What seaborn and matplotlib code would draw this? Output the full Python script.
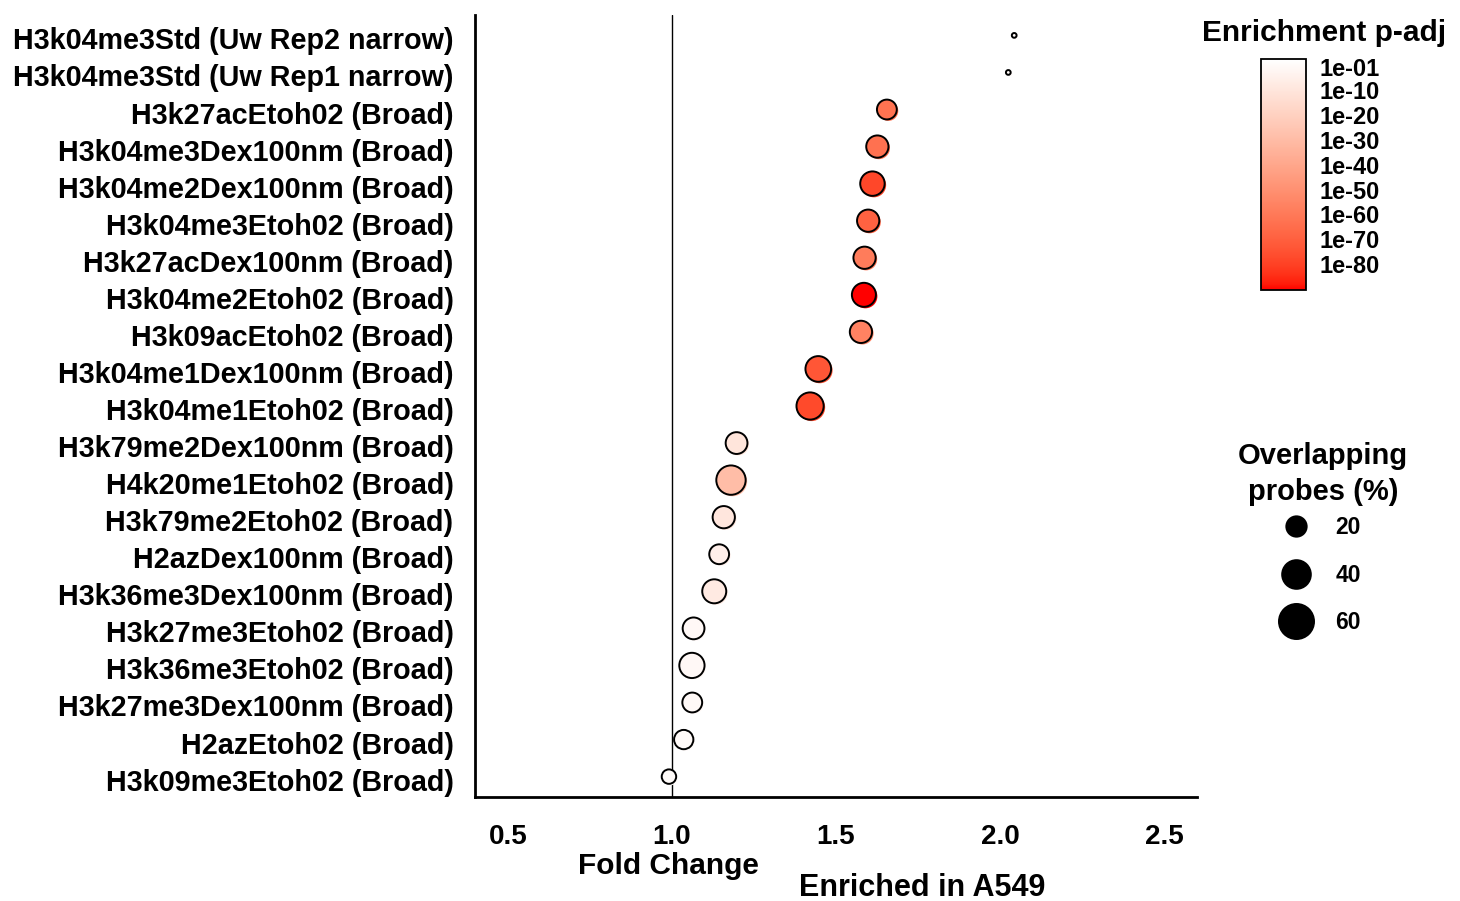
import numpy as np
import pandas as pd
import matplotlib
matplotlib.use("Agg")
import matplotlib.pyplot as plt
from matplotlib.colors import ListedColormap, Normalize
from matplotlib.cm import ScalarMappable
from matplotlib.lines import Line2D
from matplotlib.transforms import ScaledTranslation
import seaborn as sns

# ---- data -----------------------------------------------------------------
marks = [
    "H3k04me3Std (Uw Rep2 narrow)",
    "H3k04me3Std (Uw Rep1 narrow)",
    "H3k27acEtoh02 (Broad)",
    "H3k04me3Dex100nm (Broad)",
    "H3k04me2Dex100nm (Broad)",
    "H3k04me3Etoh02 (Broad)",
    "H3k27acDex100nm (Broad)",
    "H3k04me2Etoh02 (Broad)",
    "H3k09acEtoh02 (Broad)",
    "H3k04me1Dex100nm (Broad)",
    "H3k04me1Etoh02 (Broad)",
    "H3k79me2Dex100nm (Broad)",
    "H4k20me1Etoh02 (Broad)",
    "H3k79me2Etoh02 (Broad)",
    "H2azDex100nm (Broad)",
    "H3k36me3Dex100nm (Broad)",
    "H3k27me3Etoh02 (Broad)",
    "H3k36me3Etoh02 (Broad)",
    "H3k27me3Dex100nm (Broad)",
    "H2azEtoh02 (Broad)",
    "H3k09me3Etoh02 (Broad)",
]
fold_change = [2.043, 2.025, 1.655, 1.626, 1.611, 1.598, 1.587, 1.585, 1.576,
               1.446, 1.421, 1.197, 1.180, 1.158, 1.144, 1.129, 1.066, 1.061,
               1.062, 1.036, 0.991]
overlap_pct = [1, 1, 19, 24, 29, 24, 24, 28, 24, 32, 36, 23, 42, 24, 19, 28,
               23, 31, 19, 18, 10]
neg_log10_padj = [0.2, 0.2, 62.5, 63.4, 78.2, 69.0, 58.8, 90.3, 56.0, 73.6,
                  77.3, 10.6, 29.6, 9.7, 5.5, 7.8, 0.9, 0.9, 0.8, 0.3, 0.0]

padj_limits = (-2.4, 90.3)
padj_breaks = [1, 10, 20, 30, 40, 50, 60, 70, 80]
padj_labels = ["1e-01", "1e-10", "1e-20", "1e-30", "1e-40", "1e-50",
               "1e-60", "1e-70", "1e-80"]
overlap_breaks = [20, 40, 60]
fc_ticks = [0.5, 1.0, 1.5, 2.0, 2.5]

df = pd.DataFrame({
    "mark": marks,
    "fold_change": fold_change,
    "overlap": overlap_pct,
    "padj": neg_log10_padj,
})

# ---- white -> red gradient interpolated in CIE Lab ------------------------
M = np.array([[0.4124564, 0.3575761, 0.1804375],
              [0.2126729, 0.7151522, 0.0721750],
              [0.0193339, 0.1191920, 0.9503041]])
WHITE_XYZ = M @ np.ones(3)


def srgb_to_lab(rgb):
    rgb = np.asarray(rgb, float)
    lin = np.where(rgb <= 0.04045, rgb / 12.92, ((rgb + 0.055) / 1.055) ** 2.4)
    xyz = (M @ lin) / WHITE_XYZ
    d = 6 / 29
    f = np.where(xyz > d ** 3, np.cbrt(xyz), xyz / (3 * d ** 2) + 4 / 29)
    return np.array([116 * f[1] - 16, 500 * (f[0] - f[1]), 200 * (f[1] - f[2])])


def lab_to_srgb(lab):
    L, a, b = lab.T
    fy = (L + 16) / 116
    f = np.stack([fy + a / 500, fy, fy - b / 200], axis=1)
    d = 6 / 29
    xyz = np.where(f > d, f ** 3, 3 * d ** 2 * (f - 4 / 29)) * WHITE_XYZ
    lin = np.clip(xyz @ np.linalg.inv(M).T, 0, 1)
    rgb = np.where(lin <= 0.0031308, 12.92 * lin, 1.055 * lin ** (1 / 2.4) - 0.055)
    return np.clip(rgb, 0, 1)


def lab_gradient(low, high, n=256):
    t = np.linspace(0, 1, n)[:, None]
    lab = srgb_to_lab(low) * (1 - t) + srgb_to_lab(high) * t
    return ListedColormap(lab_to_srgb(lab))


cmap = lab_gradient((1, 1, 1), (1, 0, 0))
norm = Normalize(*padj_limits)

# ---- size scale (diameter grows with sqrt of the percentage) ---------------
DPI = 100
EDGE_LW = 1.4


def marker_area(pct):
    outer_px = 2.2 + 4.49 * np.sqrt(pct)
    return float((outer_px * 72 / DPI - EDGE_LW) ** 2)


size_lookup = {v: marker_area(v) for v in sorted(set(overlap_pct))}

# ---- figure ----------------------------------------------------------------
sns.set_style("white")
plt.rcParams["font.family"] = ["Liberation Sans", "DejaVu Sans"]
plt.rcParams["font.weight"] = "bold"
for key in ("text.color", "axes.labelcolor", "xtick.color", "ytick.color",
            "axes.edgecolor"):
    plt.rcParams[key] = "black"

W, H = 1460, 901
fig = plt.figure(figsize=(W / DPI, H / DPI), dpi=DPI)
ax = fig.add_axes([475 / W, 1 - 797 / H, 722 / W, 782 / H])

ax.axvline(1.0, color="black", lw=1.0, zorder=1)

# soft offset fill underneath, then the outlined points
sns.scatterplot(data=df, x="fold_change", y="mark", hue="padj", hue_norm=norm,
                palette=cmap, size="overlap", sizes=size_lookup, linewidth=0,
                legend=False, ax=ax, zorder=2)
shadow = ax.collections[-1]
shadow.set_offset_transform(
    ax.transData + ScaledTranslation(1.5 / DPI, -1.5 / DPI, fig.dpi_scale_trans))

sns.scatterplot(data=df, x="fold_change", y="mark", hue="padj", hue_norm=norm,
                palette=cmap, size="overlap", sizes=size_lookup,
                edgecolor="black", linewidth=EDGE_LW, legend=False, ax=ax,
                zorder=3)

ax.set_xlim(0.4, 2.6)
ax.set_ylim(len(marks) - 0.45, -0.55)
ax.set_xticks(fc_ticks)
ax.set_xticklabels([f"{v:.1f}" for v in fc_ticks])
ax.set_xlabel("")
ax.set_ylabel("")

for side in ("top", "right"):
    ax.spines[side].set_visible(False)
for side in ("left", "bottom"):
    ax.spines[side].set_linewidth(2.0)
    ax.spines[side].set_color("black")

ax.tick_params(axis="both", length=11.5, width=1.6, color="black",
               labelcolor="black")
ax.tick_params(axis="y", pad=4, labelsize=20.7)
ax.tick_params(axis="x", pad=8, labelsize=20)
for lab in ax.get_xticklabels():
    lab.set_fontweight("bold")
# category names sit a touch below their tick marks
label_drop = ScaledTranslation(0, -3 / DPI, fig.dpi_scale_trans)
for lab in ax.get_yticklabels():
    lab.set_fontweight("bold")
    lab.set_transform(lab.get_transform() + label_drop)

fig.text(668 / W, 1 - 866 / H, "Fold Change", ha="center", va="center",
         fontsize=21.5, fontweight="bold")
fig.text(922 / W, 1 - 888 / H, "Enriched in A549", ha="center", va="center",
         fontsize=22, fontweight="bold")

# ---- colour bar ------------------------------------------------------------
cax = fig.add_axes([1261 / W, 1 - 290 / H, 45 / W, 231 / H])
cb = fig.colorbar(ScalarMappable(norm=norm, cmap=cmap), cax=cax)
cb.set_ticks(padj_breaks, labels=padj_labels)
cb.minorticks_off()
cax.invert_yaxis()
cb.outline.set_linewidth(1.3)
cb.outline.set_edgecolor("black")
cax.tick_params(axis="y", direction="in", left=True, right=True, length=6,
                width=1.3, color="black", labelsize=17, pad=10)
for lab in cax.get_yticklabels():
    lab.set_fontweight("bold")
fig.text(1324 / W, 1 - 33 / H, "Enrichment p-adj", ha="center", va="center",
         fontsize=21.5, fontweight="bold")

# ---- size legend -----------------------------------------------------------
fig.text(1323 / W, 1 - 474 / H, "Overlapping\nprobes (%)", ha="center",
         va="center", multialignment="center", linespacing=1.35,
         fontsize=21, fontweight="bold")
handles = [Line2D([], [], marker="o", ls="", color="black",
                  markersize=np.sqrt(marker_area(v)),
                  markeredgewidth=EDGE_LW) for v in overlap_breaks]
leg = fig.legend(handles, [str(v) for v in overlap_breaks],
                 loc="upper center", bbox_to_anchor=(1317 / W, 1 - 505 / H),
                 frameon=False, fontsize=16.5, labelspacing=1.05,
                 handlelength=2.0, handletextpad=0.7, borderpad=0)
for t in leg.get_texts():
    t.set_fontweight("bold")

fig.savefig("out.png", dpi=DPI)
